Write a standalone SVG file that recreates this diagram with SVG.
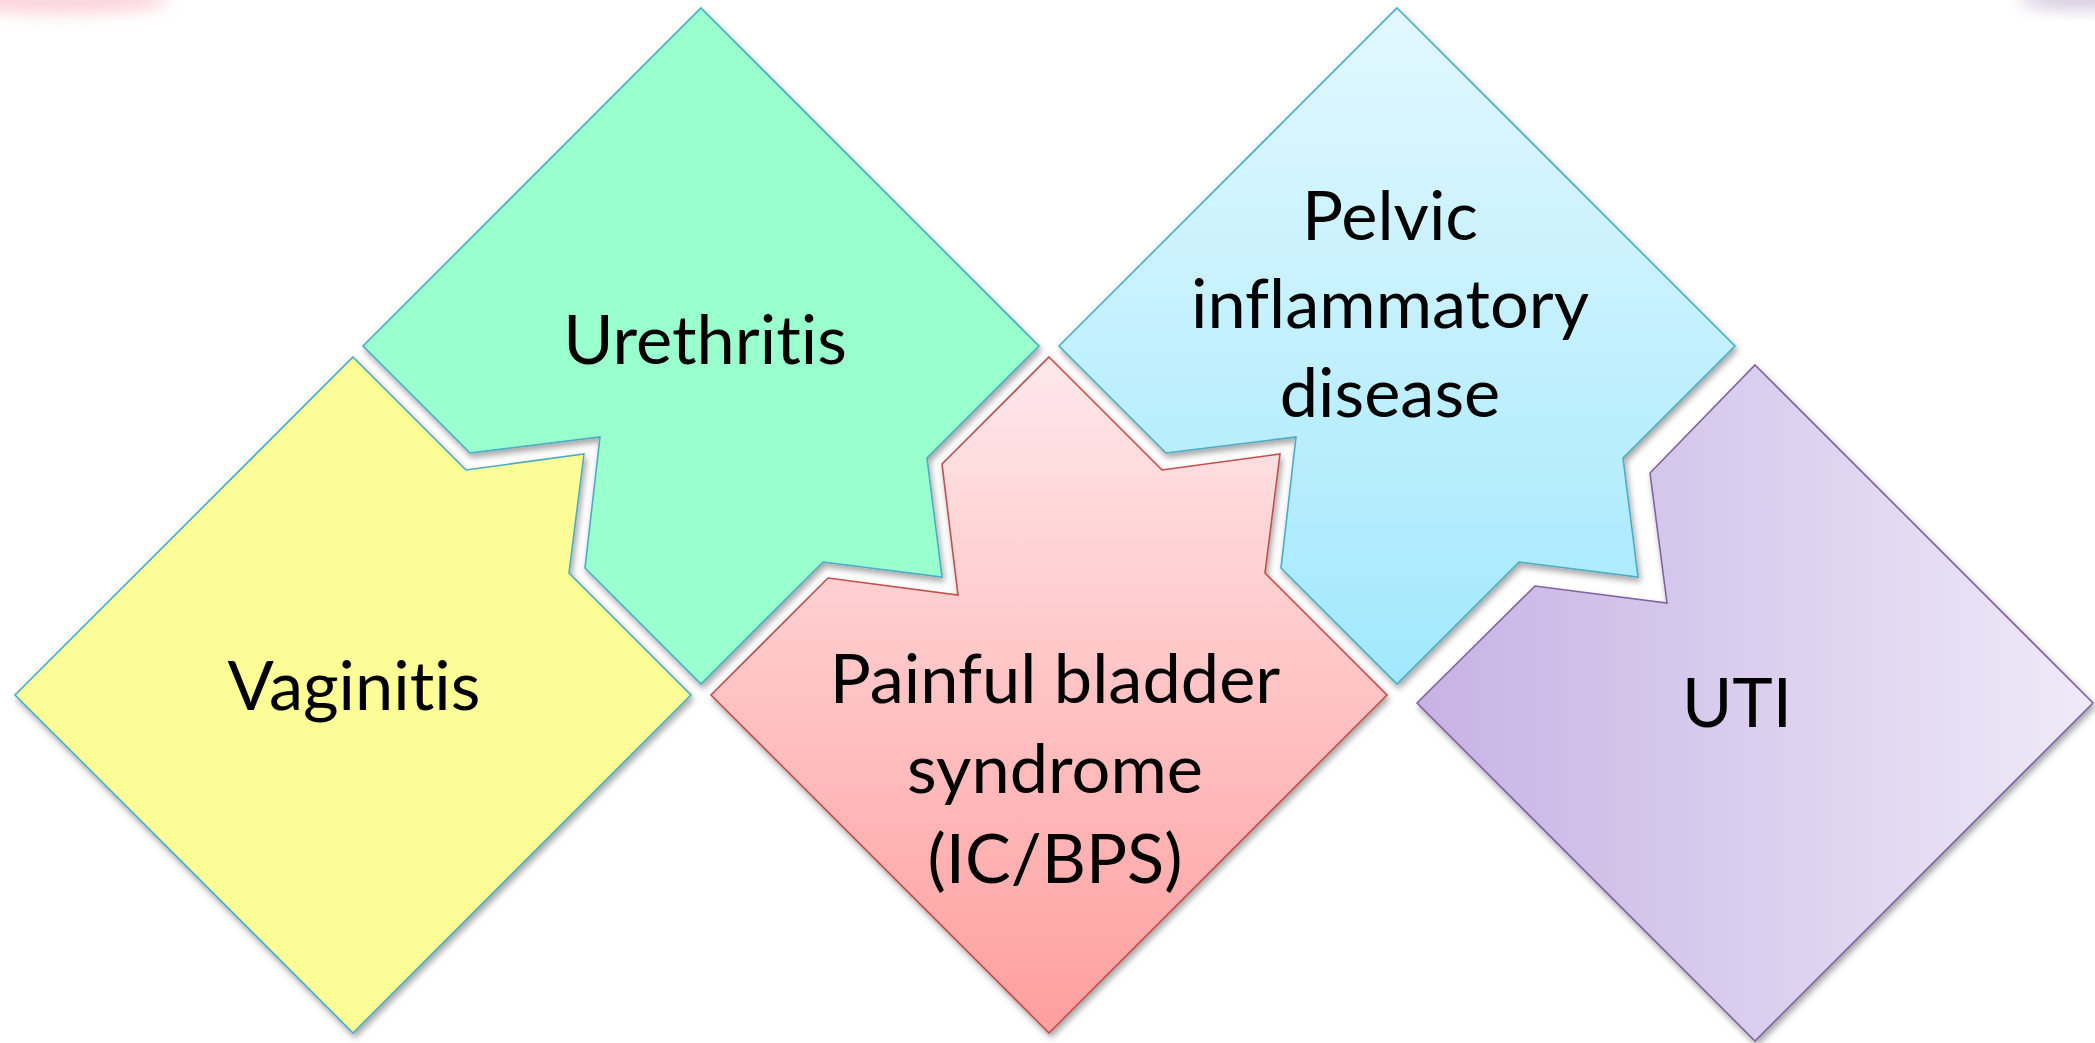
<svg xmlns="http://www.w3.org/2000/svg" width="2095" height="1043" viewBox="0 0 2095 1043">
<defs>
<style>
.shape{stroke-width:1.6;stroke-linejoin:miter;filter:url(#sh)}
.lbl{font-family:Lato,"Open Sans","Liberation Sans",sans-serif;font-size:68.5px;fill:#000;text-anchor:middle;font-variant-ligatures:none;font-feature-settings:"liga" 0,"clig" 0}
</style>
<filter id="sh" x="-10%" y="-10%" width="120%" height="120%">
<feDropShadow dx="2" dy="4" stdDeviation="3" flood-color="#000" flood-opacity="0.35"/>
</filter>
<filter id="blur" x="-50%" y="-50%" width="200%" height="200%"><feGaussianBlur stdDeviation="8"/></filter>
<linearGradient id="gPink" x1="0" y1="0" x2="0" y2="1">
<stop offset="0" stop-color="#FFE8EA"/><stop offset="1" stop-color="#FF9E9E"/>
</linearGradient>
<linearGradient id="gBlue" x1="0" y1="0" x2="0" y2="1">
<stop offset="0" stop-color="#E2F8FE"/><stop offset="1" stop-color="#A2E8FD"/>
</linearGradient>
<linearGradient id="gPurple" x1="0" y1="0" x2="1" y2="0">
<stop offset="0" stop-color="#C6B2E4"/><stop offset="1" stop-color="#EFEAF8"/>
</linearGradient>
</defs>
<rect width="2095" height="1043" fill="#fff"/>
<ellipse cx="60" cy="0" rx="110" ry="14" fill="#F9B8C8" opacity="0.6" filter="url(#blur)"/>
<ellipse cx="2080" cy="0" rx="60" ry="10" fill="#B9A8C8" opacity="0.6" filter="url(#blur)"/>

<g id="vaginitis">
<polygon class="shape" fill="#FDFD98" stroke="#4BACC6" transform="translate(353,695)" points="0,-338 113,-225 231,-241 216,-122 338,0 0,338 -338,0"/>
<text class="lbl" x="354" y="710">Vaginitis</text>
</g>

<g id="urethritis">
<polygon class="shape" fill="#99FFCC" stroke="#4BACC6" transform="translate(701,346)" points="0,-338 338,0 226,112 241,231 122,216 0,338 -116,222 -101,91 -231,107 -338,0"/>
<text class="lbl" x="705" y="364">Urethritis</text>
</g>

<g id="painful-bladder">
<polygon class="shape" fill="url(#gPink)" stroke="#C0504D" transform="translate(1049,695)" points="0,-338 113,-225 231,-241 216,-122 338,0 0,338 -338,0 -221,-117 -91,-100 -107,-231"/>
<text class="lbl" x="1055" y="703">Painful bladder</text>
<text class="lbl" x="1055" y="793">syndrome</text>
<text class="lbl" x="1055" y="883">(IC/BPS)</text>
</g>

<g id="pid">
<polygon class="shape" fill="url(#gBlue)" stroke="#4BACC6" transform="translate(1397,346)" points="0,-338 338,0 226,112 241,231 122,216 0,338 -116,222 -101,91 -231,107 -338,0"/>
<text class="lbl" x="1390" y="240">Pelvic</text>
<text class="lbl" x="1390" y="328">inflammatory</text>
<text class="lbl" x="1390" y="417">disease</text>
</g>

<g id="uti">
<polygon class="shape" fill="url(#gPurple)" stroke="#8064A2" transform="translate(1755,703)" points="0,-338 338,0 0,338 -338,0 -220,-117 -88,-100 -105,-230"/>
<text class="lbl" x="1737" y="727">UTI</text>
</g>

<g id="connectors"></g>
</svg>
